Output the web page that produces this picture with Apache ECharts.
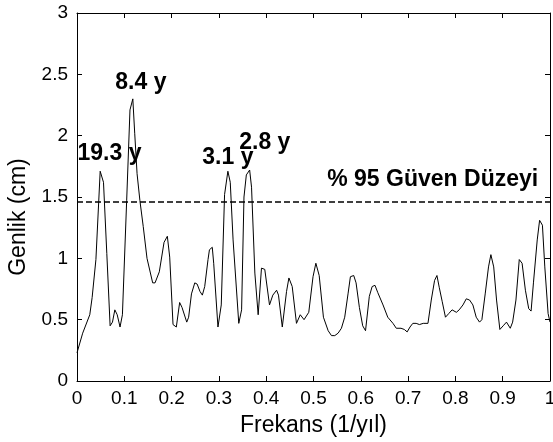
<!DOCTYPE html>
<html>
<head>
<meta charset="utf-8">
<script src="https://cdn.jsdelivr.net/npm/echarts@6/dist/echarts.min.js"></script>
<style>
  html, body { margin: 0; padding: 0; background: #fff; }
  #main { width: 553px; height: 442px; }
</style>
</head>
<body>
<div id="main"></div>
<script type="text/javascript">
    // frekans (1/yil) ve genlik (cm) degerleri
    var freq = [0.000, 0.012, 0.027, 0.032, 0.040, 0.049, 0.056, 0.063, 0.070, 0.075,
        0.080, 0.085, 0.091, 0.096, 0.105, 0.112, 0.118, 0.122, 0.127, 0.133,
        0.140, 0.148, 0.160, 0.165, 0.174, 0.184, 0.191, 0.196, 0.203, 0.210,
        0.217, 0.222, 0.232, 0.236, 0.242, 0.249, 0.254, 0.260, 0.265, 0.270,
        0.277, 0.280, 0.286, 0.289, 0.298, 0.305, 0.312, 0.319, 0.324, 0.330,
        0.342, 0.348, 0.353, 0.358, 0.365, 0.369, 0.376, 0.383, 0.390, 0.397,
        0.407, 0.414, 0.422, 0.426, 0.434, 0.443, 0.448, 0.455, 0.464, 0.472,
        0.480, 0.490, 0.499, 0.505, 0.512, 0.521, 0.531, 0.538, 0.545, 0.552,
        0.559, 0.566, 0.573, 0.578, 0.585, 0.590, 0.597, 0.604, 0.610, 0.618,
        0.624, 0.630, 0.636, 0.647, 0.657, 0.668, 0.675, 0.685, 0.692, 0.698,
        0.704, 0.710, 0.717, 0.724, 0.732, 0.742, 0.749, 0.756, 0.761, 0.766,
        0.772, 0.779, 0.786, 0.793, 0.802, 0.808, 0.816, 0.823, 0.830, 0.837,
        0.844, 0.851, 0.856, 0.863, 0.870, 0.875, 0.881, 0.887, 0.894, 0.901,
        0.908, 0.916, 0.921, 0.928, 0.935, 0.941, 0.948, 0.955, 0.960, 0.965,
        0.973, 0.978, 0.984, 0.989, 0.996, 1.000];
    var amp = [0.23, 0.39, 0.54, 0.68, 0.99, 1.71, 1.62, 1.04, 0.45, 0.48,
        0.58, 0.54, 0.44, 0.54, 1.47, 2.21, 2.30, 2.02, 1.69, 1.47,
        1.26, 1.00, 0.80, 0.80, 0.89, 1.13, 1.18, 1.01, 0.46, 0.44,
        0.64, 0.60, 0.48, 0.52, 0.71, 0.80, 0.79, 0.73, 0.70, 0.77,
        0.99, 1.07, 1.09, 0.96, 0.44, 0.62, 1.52, 1.71, 1.62, 1.15,
        0.47, 0.58, 1.50, 1.68, 1.72, 1.58, 0.88, 0.54, 0.92, 0.91,
        0.62, 0.70, 0.74, 0.70, 0.44, 0.73, 0.84, 0.77, 0.47, 0.54,
        0.50, 0.56, 0.85, 0.96, 0.86, 0.52, 0.41, 0.37, 0.37, 0.39,
        0.43, 0.52, 0.71, 0.85, 0.86, 0.80, 0.60, 0.45, 0.41, 0.69,
        0.77, 0.78, 0.72, 0.62, 0.52, 0.47, 0.43, 0.43, 0.42, 0.40,
        0.44, 0.47, 0.47, 0.46, 0.47, 0.47, 0.66, 0.82, 0.86, 0.76,
        0.65, 0.52, 0.55, 0.58, 0.56, 0.58, 0.62, 0.67, 0.66, 0.62,
        0.52, 0.48, 0.50, 0.71, 0.93, 1.03, 0.93, 0.66, 0.42, 0.45,
        0.48, 0.43, 0.48, 0.66, 0.99, 0.96, 0.74, 0.59, 0.57, 0.80,
        1.15, 1.31, 1.27, 0.93, 0.55, 0.48];
    // %95 guven duzeyi
    var confLevel = 1.46;
    // etiketler: [x, y, metin]
    var labelX = [0.0686, 0.135, 0.319, 0.397, 0.752];
    var labelY = [1.85, 2.43, 1.82, 1.94, 1.64];
    var labelText = ['19.3 y', '8.4 y', '3.1 y', '2.8 y', '% 95 Güven Düzeyi'];

    var font = 'Liberation Sans';
    var lineData = [];
    for (var i = 0; i < freq.length; i++) lineData.push([freq[i], amp[i]]);
    var labelData = [];
    for (var j = 0; j < labelX.length; j++) labelData.push({value: [labelX[j], labelY[j]], name: labelText[j]});

    var myChart = echarts.init(document.getElementById('main'));
    var boxAxis = {
        axisLine: {show: true, onZero: false, lineStyle: {color: '#000', width: 1}},
        axisTick: {show: true, inside: true, length: 5, lineStyle: {color: '#000'}},
        splitLine: {show: false}
    };
    myChart.setOption({
        animation: false,
        backgroundColor: '#fff',
        grid: {left: 77, right: 3, top: 13, bottom: 61, outerBoundsMode: 'none'},
        xAxis: [
            Object.assign({
                type: 'value', min: 0, max: 1, interval: 0.1, position: 'bottom',
                name: 'Frekans (1/yıl)', nameLocation: 'middle', nameGap: 33,
                nameTextStyle: {fontFamily: font, fontSize: 23, color: '#000'},
                axisLabel: {fontFamily: font, fontSize: 19, color: '#000', margin: 8}
            }, boxAxis),
            Object.assign({
                type: 'value', min: 0, max: 1, interval: 0.1, position: 'top',
                axisLabel: {show: false}
            }, boxAxis)
        ],
        yAxis: [
            Object.assign({
                type: 'value', min: 0, max: 3, interval: 0.5, position: 'left',
                name: 'Genlik (cm)', nameLocation: 'middle', nameGap: 47,
                nameTextStyle: {fontFamily: font, fontSize: 23, color: '#000', padding: [0, 40, 0, 0]},
                axisLabel: {fontFamily: font, fontSize: 19, color: '#000', margin: 9}
            }, boxAxis),
            Object.assign({
                type: 'value', min: 0, max: 3, interval: 0.5, position: 'right',
                axisLabel: {show: false}
            }, boxAxis)
        ],
        series: [
            {
                type: 'line',
                data: lineData,
                showSymbol: false,
                lineStyle: {color: '#000', width: 1},
                z: 3
            },
            {
                type: 'line',
                data: [[0, confLevel], [1, confLevel]],
                showSymbol: false,
                lineStyle: {color: '#000', width: 1.5, type: [6, 3]},
                z: 2
            },
            {
                type: 'scatter',
                data: labelData,
                symbolSize: 0,
                itemStyle: {opacity: 1},
                label: {
                    show: true, position: 'inside', formatter: '{b}', opacity: 1,
                    fontFamily: font, fontSize: 23, fontWeight: 'bold', color: '#000'
                },
                z: 4
            }
        ]
    });
</script>
</body>
</html>
